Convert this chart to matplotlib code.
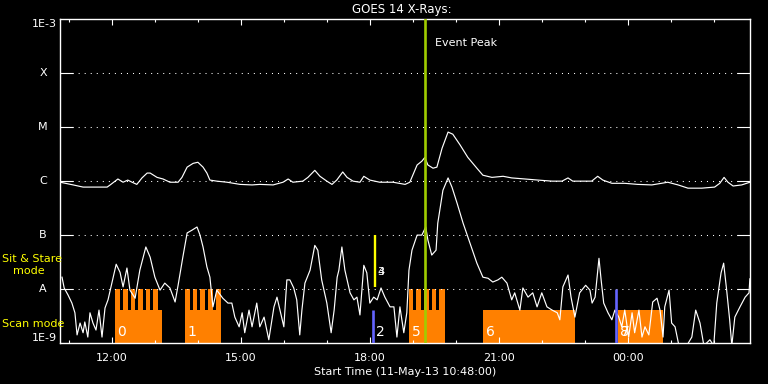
import matplotlib
matplotlib.use('Agg')
import matplotlib.pyplot as plt
import numpy as np
from matplotlib.transforms import blended_transform_factory

plt.rcParams['lines.scale_dashes'] = False
plt.rcParams['font.family'] = ['DejaVu Sans']

# ---------------- data (hours after start 11-May-13 10:48:00) ----------------
long_t = [0.00, 0.30, 0.53, 0.76, 1.09, 1.16, 1.34, 1.46, 1.57, 1.67, 1.78, 1.90, 2.02, 2.09, 2.25,
          2.39, 2.55, 2.74, 2.83, 2.95, 3.09, 3.20, 3.32, 3.41, 3.48, 3.64, 3.88, 4.18, 4.46, 4.64,
          4.95, 5.18, 5.30, 5.41, 5.64, 5.76, 5.92, 6.04, 6.20, 6.32, 6.43, 6.57, 6.67, 6.81, 6.97,
          7.06, 7.20, 7.43, 7.74, 8.02, 8.13, 8.30, 8.41, 8.48, 8.55, 8.67, 8.76, 8.88, 9.02, 9.13,
          9.30, 9.48, 9.69, 9.83, 10.04, 10.30, 10.50, 10.81, 11.11, 11.44, 11.67, 11.81, 11.92, 12.25, 12.36,
          12.50, 12.62, 12.83, 13.13, 13.43, 13.76, 14.13, 14.37, 14.60, 14.92, 15.22, 15.34, 15.44, 15.53, 15.65,
          15.85, 16.04]
long_log = [-6.02, -6.07, -6.11, -6.11, -6.11, -6.07, -5.96, -6.02, -5.98, -6.02, -6.06, -5.94, -5.85, -5.85, -5.93,
            -5.96, -6.02, -6.02, -5.93, -5.74, -5.67, -5.65, -5.74, -5.85, -5.98, -6.00, -6.02, -6.06, -6.07, -6.06,
            -6.07, -6.02, -5.96, -6.02, -6.00, -5.93, -5.80, -5.91, -6.00, -6.06, -5.98, -5.83, -5.93, -6.00, -6.02,
            -5.91, -5.98, -6.02, -6.02, -6.06, -6.02, -5.70, -5.63, -5.56, -5.70, -5.76, -5.74, -5.39, -5.09, -5.13,
            -5.33, -5.56, -5.76, -5.89, -5.93, -5.91, -5.94, -5.96, -5.98, -6.00, -6.00, -5.94, -6.00, -6.00, -6.00,
            -5.91, -5.98, -6.04, -6.04, -6.06, -6.07, -6.02, -6.07, -6.13, -6.13, -6.11, -6.04, -5.93, -6.02, -6.09,
            -6.07, -6.02]

short_t = [0.04, 0.09, 0.18, 0.27, 0.34, 0.39, 0.46, 0.53, 0.57, 0.64, 0.69, 0.76, 0.83, 0.90, 0.97,
           1.04, 1.11, 1.20, 1.30, 1.39, 1.46, 1.55, 1.62, 1.74, 1.85, 1.99, 2.09, 2.20, 2.32, 2.43,
           2.55, 2.67, 2.74, 2.85, 2.95, 3.06, 3.18, 3.25, 3.32, 3.41, 3.48, 3.55, 3.64, 3.78, 3.90,
           3.99, 4.06, 4.16, 4.23, 4.29, 4.39, 4.46, 4.57, 4.64, 4.74, 4.85, 4.97, 5.04, 5.11, 5.20,
           5.27, 5.34, 5.43, 5.50, 5.57, 5.62, 5.69, 5.81, 5.92, 5.99, 6.08, 6.20, 6.30, 6.37, 6.44,
           6.48, 6.55, 6.62, 6.74, 6.83, 6.90, 6.97, 7.06, 7.13, 7.20, 7.29, 7.37, 7.46, 7.55, 7.67,
           7.76, 7.83, 7.90, 7.99, 8.06, 8.11, 8.18, 8.30, 8.41, 8.50, 8.55, 8.64, 8.74, 8.78, 8.90,
           9.02, 9.11, 9.23, 9.37, 9.53, 9.69, 9.83, 9.95, 10.06, 10.18, 10.27, 10.39, 10.50, 10.57, 10.69,
           10.76, 10.88, 10.99, 11.09, 11.20, 11.32, 11.44, 11.56, 11.62, 11.69, 11.81, 11.88, 11.97, 12.04, 12.08,
           12.22, 12.32, 12.37, 12.44, 12.53, 12.58, 12.64, 12.74, 12.83, 12.90, 12.99, 13.06, 13.13, 13.22, 13.30,
           13.36, 13.46, 13.53, 13.60, 13.69, 13.78, 13.88, 13.95, 14.02, 14.06, 14.16, 14.22, 14.30, 14.39, 14.57,
           14.69, 14.78, 14.88, 14.97, 15.11, 15.20, 15.27, 15.37, 15.43, 15.50, 15.57, 15.62, 15.69, 15.81, 15.93,
           16.02, 16.04]
short_log = [-7.78, -7.98, -8.11, -8.26, -8.44, -8.85, -8.63, -8.81, -8.61, -8.89, -8.44, -8.63, -8.76, -8.39, -8.89,
             -8.35, -8.20, -7.89, -7.54, -7.69, -7.96, -7.61, -8.02, -8.17, -7.65, -7.22, -7.41, -7.78, -8.02, -7.89,
             -7.98, -8.24, -7.93, -7.41, -6.96, -6.91, -6.85, -7.00, -7.22, -7.59, -7.78, -8.33, -8.02, -8.17, -8.26,
             -8.26, -8.52, -8.70, -8.44, -8.81, -8.39, -8.70, -8.26, -8.70, -8.52, -8.94, -8.33, -8.15, -8.39, -8.70,
             -7.83, -7.83, -7.98, -8.20, -8.85, -8.39, -7.89, -7.65, -7.19, -7.28, -7.83, -8.26, -8.81, -8.39, -7.78,
             -7.65, -7.22, -7.65, -8.07, -8.20, -8.15, -8.48, -7.56, -7.70, -8.26, -8.15, -8.20, -7.98, -8.15, -8.33,
             -8.33, -8.89, -8.33, -8.81, -8.44, -7.65, -7.28, -7.00, -7.00, -6.85, -7.09, -7.37, -7.28, -6.78, -6.17,
             -5.94, -6.11, -6.41, -6.78, -7.15, -7.52, -7.78, -7.80, -7.87, -7.83, -7.78, -7.89, -8.20, -8.07, -8.39,
             -7.98, -8.15, -8.07, -8.33, -8.07, -8.33, -8.39, -8.44, -8.57, -7.96, -7.74, -8.15, -8.52, -8.24, -8.07,
             -7.93, -8.02, -8.26, -8.15, -7.43, -7.83, -8.26, -8.44, -8.57, -8.39, -8.52, -8.70, -8.39, -8.89, -8.44,
             -8.81, -8.39, -8.89, -8.70, -8.85, -8.24, -8.17, -8.39, -8.89, -8.33, -8.02, -8.63, -8.70, -9.05, -9.05,
             -8.89, -8.39, -8.63, -9.05, -8.94, -9.05, -8.26, -7.70, -7.52, -8.02, -8.57, -9.05, -8.52, -8.33, -8.15,
             -8.07, -7.81]

# observation blocks: label, start, end, end of comb teeth (None = no teeth)
block_labels = ['0', '1', '5', '6', '8']
block_start = [1.272, 2.900, 8.116, 9.837, 12.963]
block_end = [2.358, 3.730, 8.947, 11.970, 14.016]
block_teeth_end = [2.279, 3.730, 8.947, None, None]
block_notches = [[1.39, 1.57, 1.74, 1.92, 2.09],
                 [3.02, 3.19, 3.37, 3.55],
                 [8.21, 8.40, 8.58, 8.75],
                 [], []]
notch_width = 0.068

extra_labels = ['2', '7']
extra_label_t = [7.30, 12.98]
sitstare_labels = ['3', '4']
sitstare_label_t = [7.36, 7.37]

blue_marks_t = [7.267, 12.93]
blue_marks_top = [10 ** -8.39, 1e-8]
yellow_mark_t = 7.318
yellow_mark_range = (1.1e-8, 1e-7)
event_peak_t = 8.485

x_major = [1.2, 4.2, 7.2, 10.2, 13.2]
x_major_labels = ['12:00', '15:00', '18:00', '21:00', '00:00']
x_minor = [0.2, 2.2, 3.2, 5.2, 6.2, 8.2, 9.2, 11.2, 12.2, 14.2, 15.2]
goes_levels = [1e-4, 1e-5, 1e-6, 1e-7, 1e-8]
goes_names = ['X', 'M', 'C', 'B', 'A']
scan_top = 10 ** -8.39
sit_top = 1e-8

# ---------------- figure ----------------
W, H = 768, 384
fig = plt.figure(figsize=(W / 100, H / 100), dpi=100, facecolor='black')
ax = fig.add_axes([60.3 / W, 1 - 343 / H, 690 / W, (343 - 19.3) / H])
ax.set_facecolor('black')
ax.set_yscale('log')
ax.set_ylim(1e-9, 1e-3)
ax.set_xlim(0, 16.05)

ORANGE = '#ff8000'
BLUE = '#6464ff'
GREEN = '#a0cc00'
YELLOW = '#ffff00'

# blocks
for lab, s, e, te, notches in zip(block_labels, block_start, block_end, block_teeth_end, block_notches):
    ax.bar(s, scan_top - 1e-9, width=e - s, bottom=1e-9, align='edge', color=ORANGE, lw=0, zorder=1)
    if te is not None:
        edges = [s]
        for n in notches:
            edges.append(n)
            edges.append(n + notch_width)
        edges.append(te)
        for a, b in zip(edges[0::2], edges[1::2]):
            ax.bar(a, sit_top - scan_top, width=b - a, bottom=scan_top, align='edge',
                   color=ORANGE, lw=0, zorder=1)
    ax.text(s + 0.06, 10 ** -8.93, lab, color='white', fontsize=10, va='bottom', ha='left', zorder=6)

for lab, t in zip(extra_labels, extra_label_t):
    ax.text(t + 0.05, 10 ** -8.93, lab, color='white', fontsize=10, va='bottom', ha='left', zorder=6)
for lab, t in zip(sitstare_labels, sitstare_label_t):
    ax.text(t, 10 ** -7.68, lab, color='white', fontsize=8, va='center', ha='left', zorder=6)

# grid
for lv in goes_levels:
    ax.axhline(lv, color='white', lw=0.75, linestyle=(0, (0.75, 3.6)), zorder=1.5)

# curves
ax.plot(long_t, 10 ** np.array(long_log), color='white', lw=0.85, zorder=3)
ax.plot(short_t, 10 ** np.array(short_log), color='white', lw=0.85, zorder=3)

# vertical markers
for t, top in zip(blue_marks_t, blue_marks_top):
    ax.plot([t, t], [1e-9, top], color=BLUE, lw=1.9, solid_capstyle='butt', zorder=4)
ax.plot([yellow_mark_t, yellow_mark_t], list(yellow_mark_range), color=YELLOW, lw=1.7,
        solid_capstyle='butt', zorder=4)
ax.axvline(event_peak_t, color=GREEN, lw=1.9, zorder=5)
ax.text(event_peak_t + 0.23, 10 ** -3.44, 'Event Peak', color='white', fontsize=8, va='center', ha='left')

# axes styling
for sp in ax.spines.values():
    sp.set_color('white')
    sp.set_linewidth(1.0)
ax.set_xticks(x_major)
ax.set_xticklabels(x_major_labels)
ax.set_xticks(x_minor, minor=True)
ax.tick_params(axis='x', which='both', direction='in', top=True, bottom=True, colors='white',
               labelsize=8, pad=7)
ax.tick_params(axis='x', which='major', length=4.5, width=0.8)
ax.tick_params(axis='x', which='minor', length=2.5, width=0.8)
ax.set_yticks(goes_levels)
ax.set_yticklabels([])
ax.minorticks_off()
ax.set_xticks(x_minor, minor=True)
ax.tick_params(axis='y', which='major', direction='in', left=True, right=True, length=9.5,
               width=0.8, colors='white')
ax.set_xlabel('Start Time (11-May-13 10:48:00)', color='white', fontsize=8, labelpad=3)

tr = blended_transform_factory(ax.transAxes, ax.transData)
for lv, nm in zip(goes_levels, goes_names):
    ax.text(-0.025, lv, nm, transform=tr, color='white', fontsize=8, ha='center', va='center')
ax.text(-0.005, 1e-3, '1E-3', transform=tr, color='white', fontsize=8, ha='right', va='top')
ax.text(-0.005, 1e-9, '1E-9', transform=tr, color='white', fontsize=8, ha='right', va='bottom')

fig.text(2 / W, 1 - 259 / H, 'Sit & Stare', color=YELLOW, fontsize=8, ha='left', va='center')
fig.text(13 / W, 1 - 271 / H, 'mode', color=YELLOW, fontsize=8, ha='left', va='center')
fig.text(2 / W, 1 - 324 / H, 'Scan mode', color=YELLOW, fontsize=8, ha='left', va='center')
fig.text(401.7 / W, 1 - 9 / H, 'GOES 14 X-Rays:', color='white', fontsize=8.5, ha='center', va='center')

fig.savefig('out.png', dpi=100, facecolor='black')
